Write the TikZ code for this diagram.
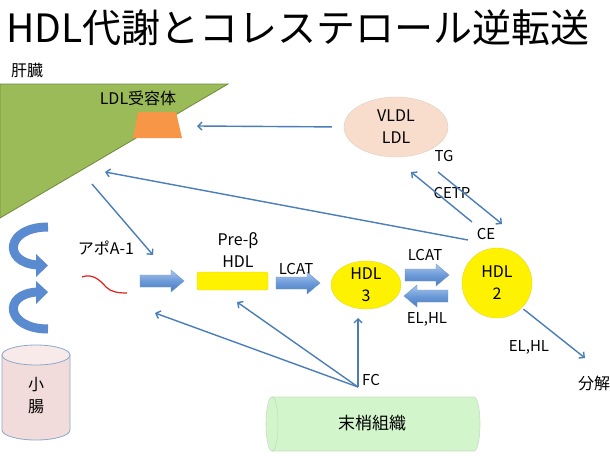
\documentclass[tikz,border=0pt]{standalone}
\usepackage{fontspec}
\setmainfont{Noto Sans CJK JP}
\usetikzlibrary{arrows.meta,shapes.geometric}
\definecolor{liverfill}{HTML}{9BBB59}
\definecolor{liverdraw}{HTML}{6E8A3A}
\definecolor{recfill}{HTML}{F79646}
\definecolor{linkblue}{HTML}{4A7EBB}
\definecolor{peach}{HTML}{F8DDCC}
\definecolor{gutfill}{HTML}{F2DCDB}
\definecolor{gutdraw}{HTML}{8FA8CC}
\definecolor{tissuefill}{HTML}{D2F5CC}
\definecolor{tissuedraw}{HTML}{C4DEC0}
\definecolor{apored}{HTML}{E0201B}
\definecolor{arrowlight}{HTML}{A9C7EE}
\definecolor{arrowmid}{HTML}{6C9AD8}
\definecolor{arrowdark}{HTML}{4A7CBF}
\definecolor{curveblue}{HTML}{5A8AD0}
\tikzset{
  txt/.style={font=\fontsize{16}{22}\selectfont, inner sep=0pt, align=center},
  ltxt/.style={font=\fontsize{15}{22}\selectfont, inner sep=0pt, align=center},
  conn/.style={draw=linkblue, line width=1.4pt, -{Straight Barb[length=4pt,width=8pt]}},
  barrow/.pic={
    \shade[top color=arrowlight, bottom color=arrowdark, middle color=arrowmid, draw=arrowdark!80, line width=0.4pt]
      (0,-6) -- (31,-6) -- (31,-11) -- (44,0) -- (31,11) -- (31,6) -- (0,6) -- cycle;
  },
  yellowbox/.style={fill=yellow, draw=yellow!85!black, line width=0.3pt}
}
\begin{document}
\begin{tikzpicture}[x=1pt,y=-1pt]
\useasboundingbox (0,0) rectangle (610,455);
\fill[white] (0,0) rectangle (610,455);

% title
\node[inner sep=0pt, font=\fontsize{39}{44}\selectfont] (title) at (298,28) {HDL代謝とコレステロール逆転送};

% liver
\node[txt] (liverlbl) at (27,70) {肝臓};
\filldraw[fill=liverfill, draw=liverdraw, line width=0.8pt] (0,84) -- (228,84) -- (0,218) -- cycle;
\coordinate (liverA) at (105,172);
\coordinate (liverB) at (92,184);
\coordinate (recpt) at (197,126);
% LDL receptor
\fill[recfill] (138,112) -- (176,112) -- (182,138) -- (133,138) -- cycle;
\node[txt] (reclbl) at (138,98) {LDL受容体};

% VLDL/LDL
\node[ellipse, minimum width=104pt, minimum height=60pt, fill=peach, draw=peach!90!black, line width=0.3pt, txt] (vldl) at (396,127) {VLDL\\LDL};
\draw[conn, shorten <=12pt] (vldl.west) -- (recpt);

% CETP
\node[ltxt] (tg) at (444,156) {TG};
\node[ltxt] (cetp) at (452,193) {CETP};
\node[ltxt] (ce) at (486,234) {CE};
\coordinate (cetpA1) at (472,222);
\coordinate (cetpA2) at (411,172);
\coordinate (cetpB1) at (438,172);
\coordinate (cetpB2) at (502,224);
\draw[conn] (cetpA1) -- (cetpA2);
\draw[conn] (cetpB1) -- (cetpB2);
\coordinate (ceS) at (468,240);
\draw[conn] (ceS) -- (liverA);

% liver to apoA-1 area
\coordinate (apoT) at (153,255);
\draw[conn] (liverB) -- (apoT);

% curved arrows
\draw[curveblue, line width=9pt] (48,227) .. controls (6,227) and (2,262) .. (37,265);
\fill[curveblue] (36,254) -- (48,265.5) -- (36,277) -- cycle;
\draw[curveblue, line width=9pt] (48,329) .. controls (6,329) and (2,294) .. (37,292);
\fill[curveblue] (36,281) -- (48,292) -- (36,304) -- cycle;

% small intestine
\filldraw[fill=gutfill, draw=gutdraw, line width=0.8pt] (2,355) -- (2,430) arc[start angle=180, end angle=0, x radius=34, y radius=10] -- (70,355) -- cycle;
\filldraw[fill=gutfill!60!white, draw=gutdraw, line width=0.8pt] (36,355) ellipse [x radius=34, y radius=10];
\node[txt] (gut) at (36,396) {小\\腸};

% apoA-1
\node[txt] (apo) at (106,248) {アポA-1};
\draw[apored, line width=1.2pt] (82,277) .. controls (92,273) and (100,280) .. (106,287) .. controls (111,292) and (118,293) .. (127,293);
\pic at (140,281) {barrow};

% pre-beta HDL
\node[txt] (prelbl) at (238,250) {Pre-β\\HDL};
\node[yellowbox, rounded corners=2pt, minimum width=71pt, minimum height=18pt, inner sep=0pt] (preb) at (232.5,281) {};
\node[ltxt] (lcat1) at (296,269) {LCAT};
\pic at (276,283) {barrow};

% HDL3
\node[ellipse, yellowbox, minimum width=70pt, minimum height=44pt, inner sep=0pt, txt] (hdl3) at (366,285) {HDL\\3};
\node[ltxt] (lcat2) at (425,255) {LCAT};
\pic at (405,275) {barrow};
\pic[rotate=180] at (448,296) {barrow};
\node[ltxt] (elhl1) at (427,319) {EL,HL};

% HDL2
\node[circle, yellowbox, minimum size=70pt, inner sep=0pt, txt] (hdl2) at (497,283) {HDL\\2};
\coordinate (decompT) at (585,358);
\draw[conn, shorten <=2pt] (hdl2.-45) -- (decompT);
\node[ltxt] (elhl2) at (529,347) {EL,HL};
\node[txt] (decomp) at (594,383) {分解};

% FC
\coordinate (fc) at (358,387);
\node[ltxt] (fclbl) at (371,380) {FC};
\coordinate (fcT1) at (155,313);
\coordinate (fcT2) at (237,302);
\coordinate (fcT3) at (358,318);
\draw[conn] (fc) -- (fcT1);
\draw[conn] (fc) -- (fcT2);
\draw[conn] (fc) -- (fcT3);

% peripheral tissue
\filldraw[fill=tissuefill, draw=tissuedraw, line width=0.6pt] (272,397) -- (474,397) arc[start angle=-90, end angle=90, x radius=6, y radius=27] -- (272,451) arc[start angle=90, end angle=270, x radius=6, y radius=27] -- cycle;
\draw[draw=tissuedraw, line width=0.6pt] (272,397) arc[start angle=-90, end angle=90, x radius=6, y radius=27];
\node[font=\fontsize{17}{22}\selectfont, inner sep=0pt] (tissue) at (372,423) {末梢組織};
\end{tikzpicture}
\end{document}
